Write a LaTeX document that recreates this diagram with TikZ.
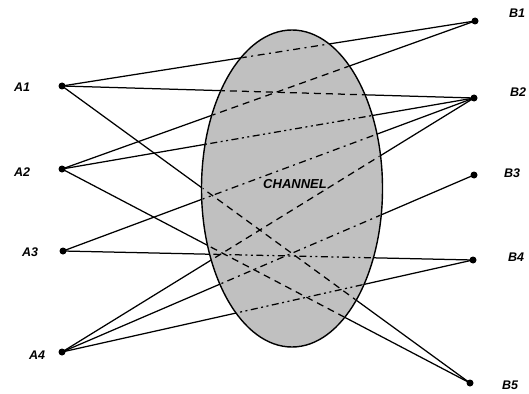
\documentclass[tikz,border=0pt]{standalone}
\usepackage{fontspec}
\setmainfont{Liberation Sans}
\usetikzlibrary{shapes.geometric}
\definecolor{chgray}{HTML}{C0C0C0}
\begin{document}
\begin{tikzpicture}[x=1pt,y=-1pt,
  pt/.style={circle, fill=black, inner sep=0pt, minimum size=7pt},
  lab/.style={font=\fontsize{12.5}{12.5}\selectfont\bfseries\itshape, inner sep=0pt},
  wire/.style={line width=1.25pt},
  dsh/.style={dash pattern=on 7pt off 5pt},
  dd/.style={dash pattern=on 7pt off 4.5pt on 2pt off 4.5pt},
  ddd/.style={dash pattern=on 7pt off 3.5pt on 2pt off 3.5pt on 2pt off 3.5pt},
  chan/.style={ellipse, draw, fill=chgray, line width=1.4pt, inner sep=0pt,
               minimum width=181pt, minimum height=317pt}]
\useasboundingbox (0,0) rectangle (529,393);
% endpoints
\node[pt] (a1) at (62,86) {};
\node[pt] (a2) at (62,169) {};
\node[pt] (a3) at (63,251) {};
\node[pt] (a4) at (62,352) {};
\node[pt] (b1) at (475,21) {};
\node[pt] (b2) at (474,98) {};
\node[pt] (b3) at (474,175) {};
\node[pt] (b4) at (473,260) {};
\node[pt] (b5) at (470,383) {};
% labels
\node[lab] (la1) at (22,87) {A1};
\node[lab] (la2) at (22,172) {A2};
\node[lab] (la3) at (30,252) {A3};
\node[lab] (la4) at (37,355) {A4};
\node[lab] (lb1) at (517,13) {B1};
\node[lab] (lb2) at (518,92) {B2};
\node[lab] (lb3) at (512,173) {B3};
\node[lab] (lb4) at (516,257) {B4};
\node[lab] (lb5) at (510,385) {B5};
% solid connectors
\foreach \s/\t in {a1/b1,a1/b2,a1/b5,a2/b1,a2/b2,a2/b5,a3/b2,a3/b4,a4/b2,a4/b3,a4/b4}
  \draw[wire] (\s.center) -- (\t.center);
% channel
\node[chan] (ch) at (292,188.5) {};
% patterned parts inside the channel
\begin{scope}
  \clip (292,188.5) ellipse [x radius=89.5, y radius=157.5];
  \draw[wire,dd]  (a1.center) -- (b1.center);
  \draw[wire,dsh] (a1.center) -- (b2.center);
  \draw[wire,dsh] (a1.center) -- (b5.center);
  \draw[wire,dsh] (a2.center) -- (b1.center);
  \draw[wire,ddd] (a2.center) -- (b2.center);
  \draw[wire,dsh] (a2.center) -- (b5.center);
  \draw[wire,dd]  (a3.center) -- (b2.center);
  \draw[wire,ddd] (a3.center) -- (b4.center);
  \draw[wire,dsh] (a4.center) -- (b2.center);
  \draw[wire,dd]  (a4.center) -- (b3.center);
  \draw[wire,ddd] (a4.center) -- (b4.center);
\end{scope}
\node[font=\fontsize{13}{13}\selectfont\bfseries\itshape, inner sep=0pt] (chl) at (295,184) {CHANNEL};
\end{tikzpicture}
\end{document}
